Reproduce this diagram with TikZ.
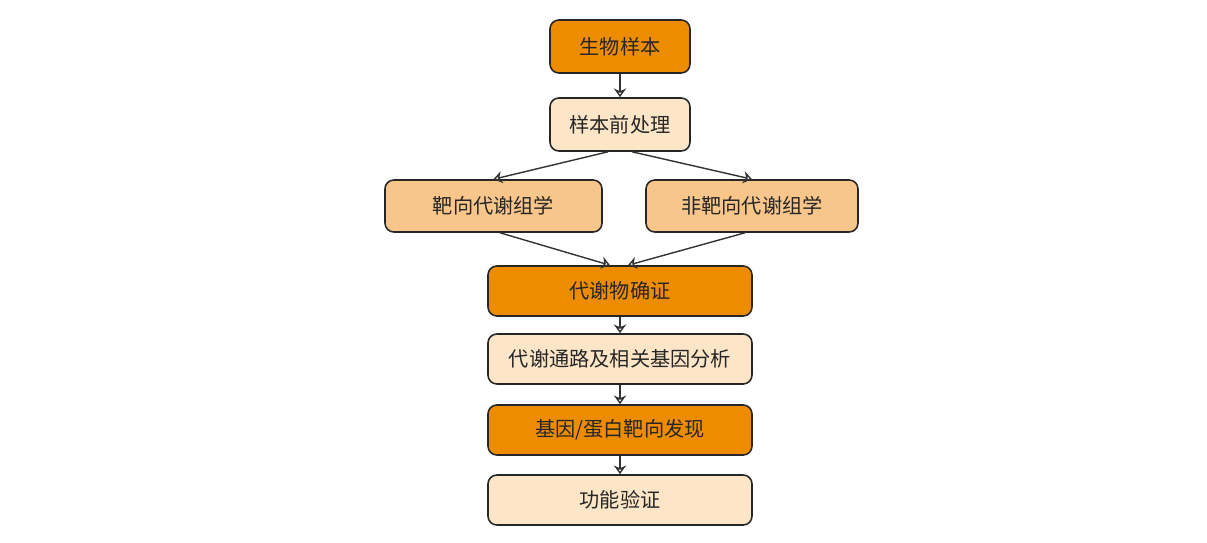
\documentclass[tikz,border=0pt]{standalone}
\usepackage{fontspec}
\newfontfamily\cjk{Noto Sans CJK SC}
\usetikzlibrary{arrows.meta}
\definecolor{dk}{HTML}{EE8C00}
\definecolor{md}{HTML}{F8C68A}
\definecolor{lt}{HTML}{FDE5C8}
\begin{document}
\begin{tikzpicture}[x=0.02cm,y=-0.02cm,
 bx/.style={draw=black!85,line width=0.9pt,rounded corners=5pt,inner sep=0pt,font=\cjk\fontsize{11.5}{14}\selectfont,text=black!85},
 ar/.style={-{Stealth[open,length=5pt,width=7pt]},line width=0.8pt,draw=black!80}]
\useasboundingbox (0,0) rectangle (1207,542);
\node[bx,fill=dk,minimum width=2.8cm,minimum height=1.06cm] (a) at (620,46.5) {生物样本};
\node[bx,fill=lt,minimum width=2.8cm,minimum height=1.06cm] (b) at (620,124.5) {样本前处理};
\node[bx,fill=md,minimum width=4.34cm,minimum height=1.04cm] (c) at (493.5,206) {靶向代谢组学};
\node[bx,fill=md,minimum width=4.24cm,minimum height=1.04cm] (d) at (752,206) {非靶向代谢组学};
\node[bx,fill=dk,minimum width=5.28cm,minimum height=1.0cm] (e) at (620,291) {代谢物确证};
\node[bx,fill=lt,minimum width=5.28cm,minimum height=1.0cm] (f) at (620,359) {代谢通路及相关基因分析};
\node[bx,fill=dk,minimum width=5.28cm,minimum height=1.0cm] (g) at (620,430) {基因/蛋白靶向发现};
\node[bx,fill=lt,minimum width=5.28cm,minimum height=1.0cm] (h) at (620,500) {功能验证};
\draw[ar] (a) -- (b);
\draw[ar] ([xshift=-0.24cm]b.south) -- (c.north);
\draw[ar] ([xshift=0.24cm]b.south) -- (d.north);
\draw[ar] ([xshift=0.13cm]c.south) -- ([xshift=-0.2cm]e.north);
\draw[ar] ([xshift=-0.14cm]d.south) -- ([xshift=0.16cm]e.north);
\draw[ar] (e) -- (f);
\draw[ar] (f) -- (g);
\draw[ar] (g) -- (h);
\end{tikzpicture}
\end{document}
